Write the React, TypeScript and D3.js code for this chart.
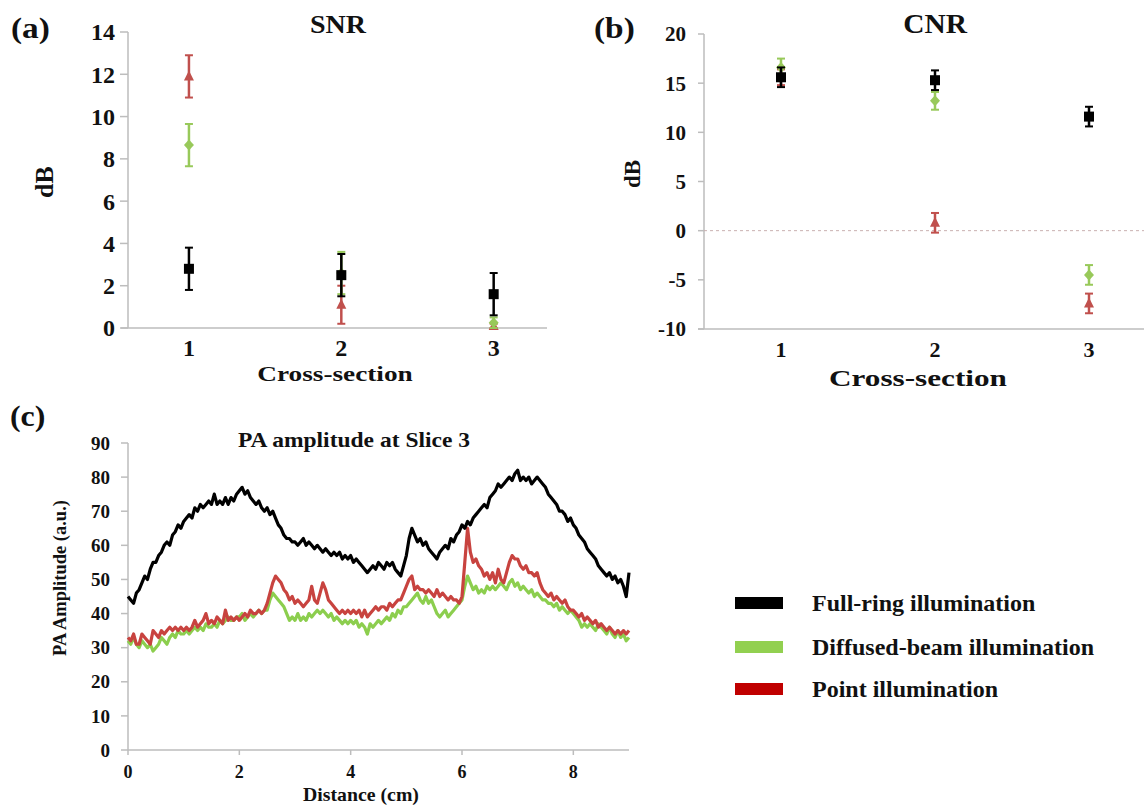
import React from "react";
import * as d3 from "d3";

// panels (a) and (b): cross-sections
const categories = [1, 2, 3];

const snrFull = [2.8, 2.5, 1.6];
const snrFullErr = [1.0, 1.0, 1.0];
const snrDiffused = [8.65, 2.6, 0.25];
const snrDiffusedErr = [1.0, 1.0, 0.25];
const snrPoint = [11.9, 1.1, 0.1];
const snrPointErr = [1.0, 0.9, 0.1];

const cnrFull = [15.6, 15.3, 11.6];
const cnrFullErr = [1.0, 1.0, 1.0];
const cnrDiffused = [16.6, 13.2, -4.5];
const cnrDiffusedErr = [0.9, 0.9, 1.0];
const cnrPoint = [15.6, 0.8, -7.4];
const cnrPointErr = [0.8, 1.0, 1.0];

const snrTicks = [0, 2, 4, 6, 8, 10, 12, 14];
const cnrTicks = [-10, -5, 0, 5, 10, 15, 20];

// panel (c): PA amplitude at slice 3, one sample every 0.05 cm
const distStep = 0.05;
const distTicks = [0, 2, 4, 6, 8];
const paTicks = [0, 10, 20, 30, 40, 50, 60, 70, 80, 90];

const paFull = [
  45, 44, 43, 46, 47, 49, 51, 50, 53, 55, 55, 57, 58, 60, 61, 60, 63, 64, 66, 65,
  67, 68, 69, 68, 71, 70, 72, 71, 72, 73, 72, 75, 72, 73, 72, 74, 72, 74, 73, 75,
  76, 77, 75, 76, 74, 73, 72, 73, 71, 70, 71, 69, 70, 68, 66, 65, 63, 62, 62, 61,
  61, 60, 61, 62, 60, 61, 60, 59, 60, 59, 58, 59, 58, 57, 58, 57, 58, 56, 57, 56,
  57, 55, 56, 55, 54, 53, 52, 53, 54, 53, 55, 54, 53, 55, 54, 55, 53, 52, 51, 54,
  57, 62, 65, 63, 61, 62, 60, 61, 59, 58, 57, 56, 58, 59, 60, 59, 62, 61, 63, 64,
  66, 65, 67, 66, 68, 69, 70, 71, 72, 71, 74, 75, 76, 78, 77, 78, 79, 80, 79, 81,
  82, 79, 80, 79, 80, 78, 79, 80, 79, 78, 77, 75, 74, 73, 72, 70, 70, 69, 67, 68,
  66, 65, 63, 62, 61, 59, 58, 57, 56, 54, 53, 52, 51, 52, 50, 51, 49, 50, 48, 45,
  52,
];

const paDiffused = [
  32, 31, 33, 31, 30, 32, 31, 30, 31, 29, 30, 31, 33, 32, 31, 33, 34, 33, 35, 34,
  34, 35, 34, 35, 36, 35, 36, 35, 37, 36, 36, 37, 36, 38, 37, 38, 39, 38, 38, 39,
  39, 40, 38, 39, 40, 39, 40, 41, 40, 41, 41, 44, 46, 45, 44, 43, 42, 40, 38, 39,
  38, 40, 38, 39, 38, 40, 39, 40, 41, 40, 41, 40, 39, 40, 38, 39, 38, 37, 38, 37,
  38, 37, 38, 36, 37, 36, 34, 37, 36, 37, 38, 37, 38, 39, 38, 40, 39, 41, 40, 42,
  42, 43, 44, 45, 46, 44, 43, 45, 43, 44, 42, 40, 39, 40, 41, 39, 40, 41, 42, 43,
  44, 48, 51, 49, 47, 48, 46, 47, 46, 48, 47, 48, 47, 48, 49, 48, 47, 49, 50, 48,
  49, 47, 48, 47, 46, 47, 45, 46, 45, 44, 44, 43, 43, 42, 43, 41, 42, 41, 40, 41,
  40, 39, 38, 36, 37, 36, 37, 36, 35, 37, 36, 35, 34, 36, 34, 33, 35, 33, 34, 32,
  33,
];

const paPoint = [
  33, 32, 34, 31, 31, 34, 33, 32, 31, 35, 34, 33, 35, 34, 35, 36, 35, 36, 35, 36,
  35, 36, 35, 36, 38, 36, 37, 38, 40, 37, 38, 37, 39, 38, 37, 41, 38, 39, 38, 39,
  38, 39, 40, 39, 41, 40, 40, 41, 40, 41, 43, 46, 49, 51, 50, 49, 47, 46, 44, 45,
  43, 44, 43, 42, 43, 44, 48, 44, 43, 46, 49, 47, 44, 43, 42, 41, 40, 41, 40, 41,
  40, 41, 40, 41, 39, 41, 39, 40, 41, 42, 41, 42, 42, 41, 43, 42, 43, 44, 44, 46,
  48, 50, 51, 47, 48, 47, 47, 46, 47, 46, 45, 47, 45, 46, 45, 44, 45, 44, 44, 43,
  45, 55, 65, 58, 55, 56, 54, 53, 51, 52, 50, 52, 49, 53, 50, 49, 52, 55, 57, 56,
  56, 54, 53, 54, 52, 52, 51, 52, 49, 47, 46, 45, 46, 44, 45, 44, 43, 44, 42, 41,
  41, 40, 39, 40, 38, 39, 38, 37, 38, 36, 37, 36, 35, 36, 35, 34, 35, 34, 35, 34,
  35,
];

const legendLabels = ["Full-ring illumination", "Diffused-beam illumination", "Point illumination"];

const markerColors = ["#000000", "#98c95a", "#c0504d"];
const lineColors = ["#000000", "#8cce4e", "#c8433f"];
const legendColors = ["#000000", "#92d050", "#c00000"];
const axisColor = "#bdbdbd";
const serif = "'Liberation Serif', 'Times New Roman', serif";

const Txt = ({ x, y, size, anchor = "middle", sx = 1, rotate = 0, dy, children }: any) => (
  <text
    transform={`translate(${x},${y})${rotate ? ` rotate(${rotate})` : ""} scale(${sx},1)`}
    textAnchor={anchor}
    dy={dy}
    fontSize={size}
    fontWeight="bold"
    fontFamily={serif}
    fill="#111"
  >
    {children}
  </text>
);

function marker(kind: string, cx: number, cy: number, color: string) {
  if (kind === "square") {
    return <rect x={cx - 5} y={cy - 5} width={10} height={10} fill={color} />;
  }
  if (kind === "triangle") {
    return <path d={`M${cx},${cy - 6} L${cx + 5},${cy + 4} L${cx - 5},${cy + 4} Z`} fill={color} />;
  }
  return <path d={`M${cx},${cy - 5.5} L${cx + 5},${cy} L${cx},${cy + 5.5} L${cx - 5},${cy} Z`} fill={color} />;
}

function ErrorSeries({ x, y, values, errs, kind, color }: any) {
  return (
    <g>
      {categories.map((c, i) => {
        const cx = x(c);
        const top = y(values[i] + errs[i]);
        const bot = y(values[i] - errs[i]);
        return (
          <g key={c}>
            <line x1={cx} x2={cx} y1={top} y2={bot} stroke={color} strokeWidth={2.5} />
            <line x1={cx - 4} x2={cx + 4} y1={top} y2={top} stroke={color} strokeWidth={2} />
            <line x1={cx - 4} x2={cx + 4} y1={bot} y2={bot} stroke={color} strokeWidth={2} />
            {marker(kind, cx, y(values[i]), color)}
          </g>
        );
      })}
    </g>
  );
}

function SnrPanel() {
  const x = d3.scaleLinear().domain([0.6, 3.35]).range([128, 547]);
  const y = d3.scaleLinear().domain([0, 14]).range([328, 32]);
  return (
    <g>
      <line x1={128} x2={128} y1={y(14)} y2={y(0)} stroke={axisColor} strokeWidth={1.5} />
      <line x1={121} x2={547} y1={y(0)} y2={y(0)} stroke={axisColor} strokeWidth={1.5} />
      {snrTicks.map((t) => (
        <g key={t}>
          <line x1={120} x2={128} y1={y(t)} y2={y(t)} stroke={axisColor} strokeWidth={1.5} />
          <Txt x={115} y={y(t)} dy="0.35em" size={24} anchor="end">{t}</Txt>
        </g>
      ))}
      {categories.map((c) => (
        <Txt key={c} x={x(c)} y={356} size={24}>{c}</Txt>
      ))}
      <ErrorSeries x={x} y={y} values={snrPoint} errs={snrPointErr} kind="triangle" color={markerColors[2]} />
      <ErrorSeries x={x} y={y} values={snrDiffused} errs={snrDiffusedErr} kind="diamond" color={markerColors[1]} />
      <ErrorSeries x={x} y={y} values={snrFull} errs={snrFullErr} kind="square" color={markerColors[0]} />
      <Txt x={11} y={38} size={29} sx={1.15} anchor="start">(a)</Txt>
      <Txt x={338} y={33} size={25} sx={1.12}>SNR</Txt>
      <Txt x={53} y={182} size={26} rotate={-90}>dB</Txt>
      <Txt x={335} y={381} size={22} sx={1.24}>Cross-section</Txt>
    </g>
  );
}

function CnrPanel() {
  const x = d3.scaleLinear().domain([0.5, 3.5]).range([704, 1166]);
  const y = d3.scaleLinear().domain([-10, 20]).range([329, 34]);
  return (
    <g>
      <line x1={704} x2={704} y1={y(20)} y2={y(-10)} stroke={axisColor} strokeWidth={1.5} />
      <line x1={698} x2={1144} y1={y(-10)} y2={y(-10)} stroke={axisColor} strokeWidth={1.5} />
      <line x1={704} x2={1144} y1={y(0)} y2={y(0)} stroke="#c9b0b0" strokeWidth={1} strokeDasharray="3,3" />
      {cnrTicks.map((t) => (
        <g key={t}>
          <line x1={698} x2={704} y1={y(t)} y2={y(t)} stroke={axisColor} strokeWidth={1.5} />
          <Txt x={686} y={y(t)} dy="0.35em" size={21} anchor="end">{t}</Txt>
        </g>
      ))}
      {categories.map((c) => (
        <Txt key={c} x={x(c)} y={357} size={22}>{c}</Txt>
      ))}
      <ErrorSeries x={x} y={y} values={cnrPoint} errs={cnrPointErr} kind="triangle" color={markerColors[2]} />
      <ErrorSeries x={x} y={y} values={cnrDiffused} errs={cnrDiffusedErr} kind="diamond" color={markerColors[1]} />
      <ErrorSeries x={x} y={y} values={cnrFull} errs={cnrFullErr} kind="square" color={markerColors[0]} />
      <Txt x={594} y={38} size={29} sx={1.15} anchor="start">(b)</Txt>
      <Txt x={935} y={33} size={27} sx={1.09}>CNR</Txt>
      <Txt x={640} y={174} size={23} rotate={-90}>dB</Txt>
      <Txt x={918} y={386} size={24} sx={1.3}>Cross-section</Txt>
    </g>
  );
}

function ProfilePanel() {
  const x = d3.scaleLinear().domain([0, 9]).range([128, 629]);
  const y = d3.scaleLinear().domain([0, 90]).range([750, 443]);
  const line = d3
    .line<number>()
    .x((_, i) => x(i * distStep))
    .y((v) => y(v));
  const series = [paDiffused, paPoint, paFull];
  const colors = [lineColors[1], lineColors[2], lineColors[0]];
  return (
    <g>
      <line x1={128} x2={128} y1={y(90)} y2={y(0)} stroke={axisColor} strokeWidth={1.5} />
      <line x1={128} x2={629} y1={y(0)} y2={y(0)} stroke={axisColor} strokeWidth={1.5} />
      {paTicks.map((t) => (
        <g key={t}>
          <line x1={121} x2={128} y1={y(t)} y2={y(t)} stroke={axisColor} strokeWidth={1.5} />
          <Txt x={110} y={y(t)} dy="0.35em" size={19} anchor="end">{t}</Txt>
        </g>
      ))}
      {distTicks.map((t) => (
        <g key={t}>
          <line x1={x(t)} x2={x(t)} y1={y(0)} y2={y(0) + 5} stroke={axisColor} strokeWidth={1.5} />
          <Txt x={x(t)} y={778} size={18}>{t}</Txt>
        </g>
      ))}
      {series.map((s, i) => (
        <path key={i} d={line(s) || ""} fill="none" stroke={colors[i]} strokeWidth={3.2} strokeLinejoin="round" />
      ))}
      <Txt x={10} y={426} size={29} sx={1.1} anchor="start">(c)</Txt>
      <Txt x={354} y={447} size={21} sx={1.12}>PA amplitude at Slice 3</Txt>
      <Txt x={66} y={578} size={18.5} rotate={-90}>PA Amplitude (a.u.)</Txt>
      <Txt x={361} y={801} size={18} sx={1.1}>Distance (cm)</Txt>
    </g>
  );
}

function Legend() {
  const rows = [603, 647, 689];
  return (
    <g>
      {legendLabels.map((label, i) => (
        <g key={label}>
          <rect x={735} y={rows[i] - 6} width={48} height={12} fill={legendColors[i]} />
          <Txt x={812} y={rows[i] + 8} size={24} anchor="start">{label}</Txt>
        </g>
      ))}
    </g>
  );
}

export default function App() {
  return (
    <svg
      width={1144}
      height={806}
      style={{ position: "absolute", left: 0, top: 0, background: "#fff" }}
    >
      <rect width={1144} height={806} fill="#fff" />
      <SnrPanel />
      <CnrPanel />
      <ProfilePanel />
      <Legend />
    </svg>
  );
}
